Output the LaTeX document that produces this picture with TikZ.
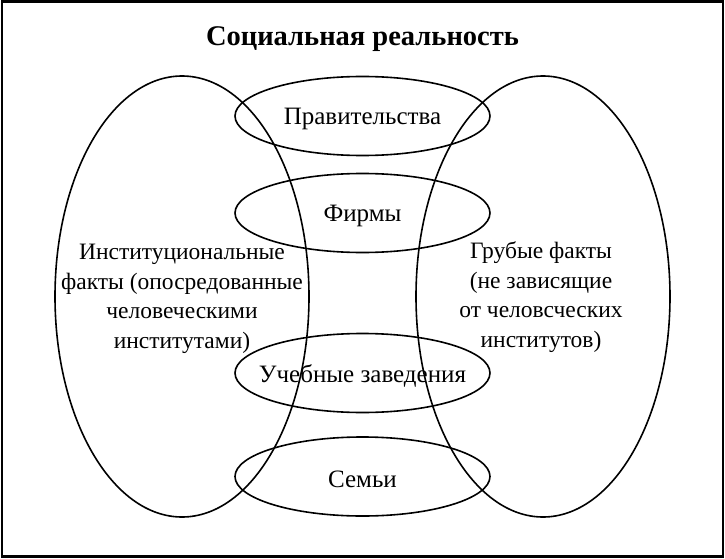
\documentclass[tikz,border=0pt]{standalone}
\usepackage{fontspec}
\setmainfont{Liberation Serif}
\usetikzlibrary{shapes.geometric}
\begin{document}
\begin{tikzpicture}[x=1pt,y=-1pt,
  ring/.style={draw, ellipse, line width=1.6pt, inner sep=0pt},
  big/.style={ring, minimum width=254pt, minimum height=441pt},
  small/.style={ring, minimum width=255pt, minimum height=79pt},
  bigtext/.style={align=center, font=\fontsize{23.5}{29.5}\selectfont},
  smalltext/.style={font=\fontsize{25}{30}\selectfont, yshift=-2.5pt}]
\useasboundingbox (0,0) rectangle (725,559);
\node[draw, line width=2.5pt, minimum width=721pt, minimum height=555pt, inner sep=0pt] (frame) at (362.5,279) {};
\node[font=\fontsize{28.5}{34}\selectfont\bfseries] (title) at (362.5,39) {Социальная реальность};
\node[big] (inst) at (182,296.5) {};
\node[big] (brute) at (543,296.5) {};
\node[bigtext] (insttxt) at (182,299) {Институциональные\\факты (опосредованные\\человеческими\\институтами)};
\node[bigtext] (brutetxt) at (541,297) {Грубые факты\\(не зависящие\\от человсческих\\институтов)};
\node[small] (gov) at (362.5,116) {};
\node[small] (firm) at (362.5,213) {};
\node[small] (edu) at (362.5,373) {};
\node[small] (fam) at (362.5,476.5) {};
\node[smalltext] (govtxt) at (gov) {Правительства};
\node[smalltext] (firmtxt) at (firm) {Фирмы};
\node[smalltext] (edutxt) at (edu) {Учебные заведения};
\node[smalltext] (famtxt) at (fam) {Семьи};
\end{tikzpicture}
\end{document}
